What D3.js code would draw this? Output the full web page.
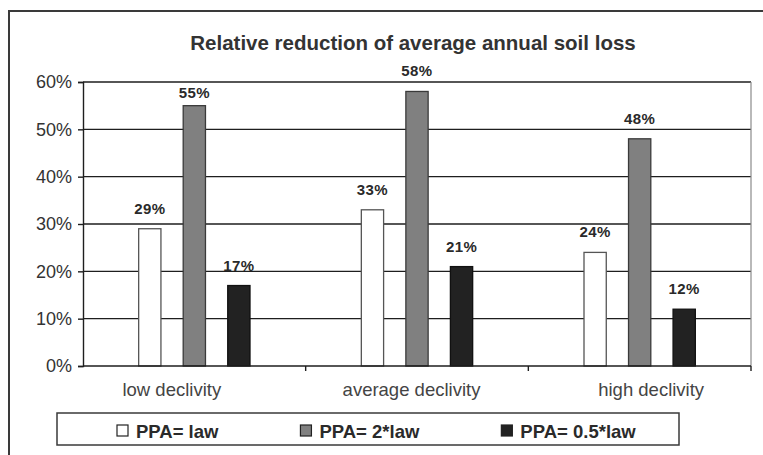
<!DOCTYPE html>
<html>
<head>
<meta charset="utf-8">
<script src="https://cdn.jsdelivr.net/npm/d3@7/dist/d3.min.js"></script>
<style>
  html, body { margin: 0; padding: 0; background: #fff; }
  svg { display: block; font-family: "Liberation Sans", Arial, sans-serif; }
</style>
</head>
<body>
<svg id="chart" width="763" height="455"></svg>
<script>
// Chart data
const categories = ["low declivity", "average declivity", "high declivity"];
const seriesNames = ["PPA= law", "PPA= 2*law", "PPA= 0.5*law"];
const seriesLaw = [29, 33, 24];
const seriesDoubleLaw = [55, 58, 48];
const seriesHalfLaw = [17, 21, 12];
const yTicks = [0, 10, 20, 30, 40, 50, 60];
const title = "Relative reduction of average annual soil loss";

const seriesValues = [seriesLaw, seriesDoubleLaw, seriesHalfLaw];
const fills = ["#ffffff", "#808080", "#222222"];
const strokes = ["#555555", "#3a3a3a", "#111111"];

const svg = d3.select("#chart");
const W = 763, H = 455;
const plot = { left: 83, right: 751, top: 82, bottom: 366 };

// outer frame
svg.append("rect")
  .attr("x", 9).attr("y", 11)
  .attr("width", W).attr("height", H)
  .attr("fill", "#fff").attr("stroke", "#3a3a3a").attr("stroke-width", 2);

// scales
const x0 = d3.scaleBand().domain(categories).range([plot.left, plot.right]);
const x1 = d3.scaleBand().domain(seriesNames)
  .range([0, x0.bandwidth()]).paddingInner(0.5).paddingOuter(1.25);
const y = d3.scaleLinear().domain([0, 60]).range([plot.bottom, plot.top]);
const xLabel = d3.scaleBand().domain(categories).range([52, 771]);

// title
svg.append("text")
  .attr("x", 413).attr("y", 50)
  .attr("text-anchor", "middle")
  .attr("font-size", 20.5).attr("font-weight", "bold")
  .attr("fill", "#333")
  .text(title);

// horizontal gridlines
svg.append("g").selectAll("line").data(yTicks.filter(d => d > 0)).join("line")
  .attr("x1", plot.left).attr("x2", plot.right)
  .attr("y1", d => y(d)).attr("y2", d => y(d))
  .attr("stroke", "#1e1e1e").attr("stroke-width", 1.4);

// right edge of plot area
svg.append("line")
  .attr("x1", plot.right).attr("x2", plot.right)
  .attr("y1", plot.top).attr("y2", plot.bottom)
  .attr("stroke", "#8a8a8a").attr("stroke-width", 1.2);

// y axis
const yAxis = svg.append("g")
  .attr("transform", `translate(${plot.left},0)`)
  .call(d3.axisLeft(y).tickValues(yTicks).tickSize(5).tickPadding(6)
    .tickFormat(d => d + "%"));
yAxis.select(".domain").attr("stroke", "#1e1e1e").attr("stroke-width", 1.4);
yAxis.selectAll(".tick line").attr("stroke", "#1e1e1e").attr("stroke-width", 1.4);
yAxis.selectAll(".tick text")
  .attr("font-size", 18).attr("fill", "#333")
  .attr("font-family", "Liberation Sans, Arial, sans-serif");

// bars and value labels
const labelSize = 15, labelCap = 11, labelGap = 15;
const groups = svg.append("g").selectAll("g").data(categories).join("g")
  .attr("transform", d => `translate(${x0(d)},0)`);

groups.each(function (cat, ci) {
  const g = d3.select(this);
  seriesNames.forEach((s, si) => {
    const v = seriesValues[si][ci];
    g.append("rect")
      .attr("x", x1(s)).attr("y", y(v))
      .attr("width", x1.bandwidth()).attr("height", y(0) - y(v))
      .attr("fill", fills[si]).attr("stroke", strokes[si]).attr("stroke-width", 1.3);
    // keep labels clear of the top gridline: tuck them just beneath it
    let ly = y(v) - labelGap;
    if (ly - labelCap < plot.top + 2 && ly > plot.top) ly = plot.top + labelCap + 5;
    g.append("text")
      .attr("x", x1(s) + x1.bandwidth() / 2).attr("y", ly)
      .attr("text-anchor", "middle")
      .attr("font-size", labelSize).attr("font-weight", "bold")
      .attr("letter-spacing", 0.4)
      .attr("fill", "#2a2a2a")
      .text(v + "%");
  });
});

// x axis baseline with category ticks
const xAxis = svg.append("g")
  .attr("transform", `translate(0,${plot.bottom})`);
xAxis.append("line")
  .attr("x1", plot.left).attr("x2", plot.right)
  .attr("stroke", "#1e1e1e").attr("stroke-width", 1.4);
const boundaries = categories.map(c => x0(c) + x0.bandwidth());
xAxis.selectAll("line.tick").data(boundaries).join("line")
  .attr("class", "tick")
  .attr("x1", d => d).attr("x2", d => d)
  .attr("y1", 0).attr("y2", 5)
  .attr("stroke", "#1e1e1e").attr("stroke-width", 1.4);

// category labels
svg.append("g").selectAll("text").data(categories).join("text")
  .attr("x", d => xLabel(d) + xLabel.bandwidth() / 2)
  .attr("y", 396)
  .attr("text-anchor", "middle")
  .attr("font-size", 18.5).attr("fill", "#444")
  .text(d => d);

// legend
const legend = svg.append("g");
legend.append("rect")
  .attr("x", 57).attr("y", 413).attr("width", 622).attr("height", 32)
  .attr("fill", "#fff").attr("stroke", "#3a3a3a").attr("stroke-width", 1.5);

let lx = 117;
seriesNames.forEach((s, i) => {
  legend.append("rect")
    .attr("x", lx).attr("y", 425).attr("width", 11).attr("height", 11)
    .attr("fill", fills[i]).attr("stroke", "#222").attr("stroke-width", 1.2);
  const t = legend.append("text")
    .attr("x", lx + 19).attr("y", 438)
    .attr("font-size", 18.5).attr("font-weight", "bold")
    .attr("fill", "#2a2a2a")
    .text(s);
  lx += 19 + t.node().getComputedTextLength() + 82;
});
</script>
</body>
</html>
